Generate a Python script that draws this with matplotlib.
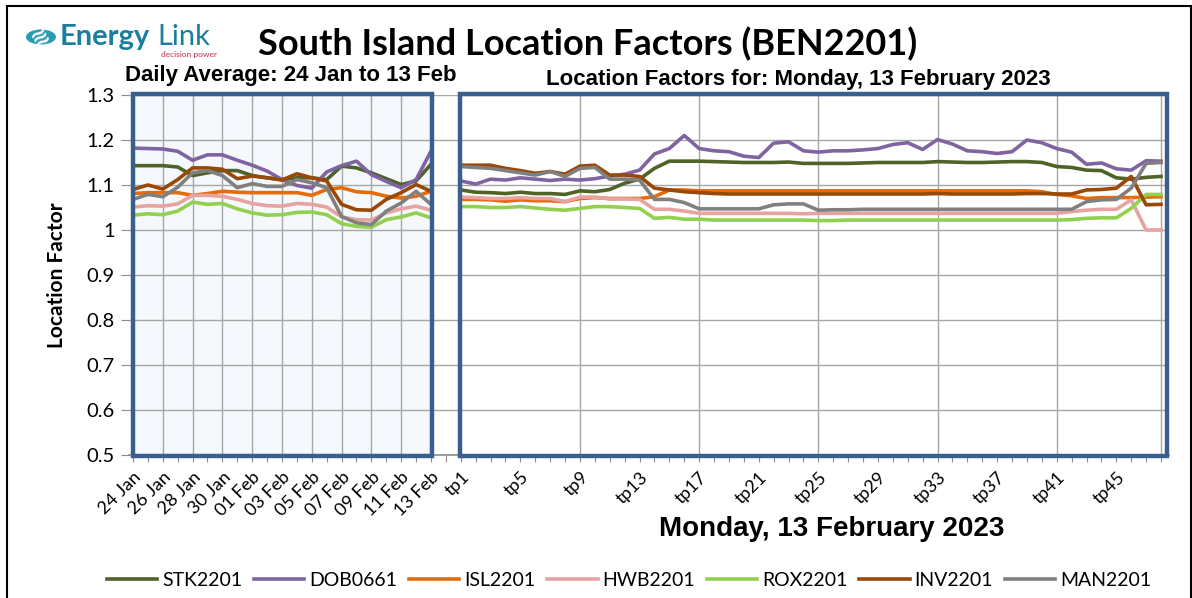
import matplotlib
matplotlib.use("Agg")
import matplotlib.pyplot as plt
from matplotlib.patches import Rectangle, Circle
import numpy as np

# ---------------- data ----------------
days = ["24 Jan", "25 Jan", "26 Jan", "27 Jan", "28 Jan", "29 Jan", "30 Jan", "31 Jan",
        "01 Feb", "02 Feb", "03 Feb", "04 Feb", "05 Feb", "06 Feb", "07 Feb", "08 Feb",
        "09 Feb", "10 Feb", "11 Feb", "12 Feb", "13 Feb"]
tps = [f"tp{k}" for k in range(1, 49)]

series_names = ["STK2201", "DOB0661", "ISL2201", "HWB2201", "ROX2201", "INV2201", "MAN2201"]
colors = ["#4F6228", "#8064A2", "#E46C0A", "#E6A3A1", "#92D050", "#984807", "#808080"]

# daily averages (21 days)
stk_daily = [1.143, 1.143, 1.143, 1.140, 1.121, 1.127, 1.132, 1.132, 1.121, 1.116, 1.112,
             1.116, 1.116, 1.112, 1.142, 1.138, 1.127, 1.114, 1.101, 1.109, 1.146]
dob_daily = [1.182, 1.181, 1.180, 1.175, 1.155, 1.167, 1.167, 1.155, 1.144, 1.131, 1.112,
             1.099, 1.093, 1.129, 1.143, 1.153, 1.123, 1.108, 1.094, 1.112, 1.175]
isl_daily = [1.081, 1.083, 1.083, 1.083, 1.077, 1.081, 1.086, 1.084, 1.083, 1.083, 1.083,
             1.083, 1.077, 1.090, 1.094, 1.085, 1.083, 1.075, 1.071, 1.075, 1.086]
hwb_daily = [1.051, 1.054, 1.053, 1.058, 1.077, 1.077, 1.075, 1.068, 1.059, 1.054, 1.053,
             1.059, 1.057, 1.051, 1.029, 1.023, 1.022, 1.038, 1.047, 1.053, 1.044]
rox_daily = [1.033, 1.036, 1.034, 1.042, 1.062, 1.057, 1.059, 1.047, 1.038, 1.033, 1.034,
             1.039, 1.040, 1.034, 1.014, 1.008, 1.006, 1.023, 1.029, 1.038, 1.027]
inv_daily = [1.090, 1.100, 1.091, 1.112, 1.138, 1.138, 1.135, 1.114, 1.120, 1.116, 1.111,
             1.125, 1.116, 1.109, 1.057, 1.045, 1.044, 1.068, 1.083, 1.101, 1.086]
man_daily = [1.068, 1.079, 1.074, 1.095, 1.127, 1.132, 1.121, 1.094, 1.103, 1.097, 1.097,
             1.112, 1.105, 1.094, 1.030, 1.016, 1.012, 1.042, 1.060, 1.086, 1.057]

# trading periods for 13 Feb (48)
stk_tp = [1.089, 1.084, 1.083, 1.081, 1.084, 1.081, 1.081, 1.079, 1.087, 1.085, 1.090, 1.104,
          1.113, 1.137, 1.153, 1.153, 1.153, 1.152, 1.151, 1.150, 1.150, 1.150, 1.151, 1.148,
          1.148, 1.148, 1.148, 1.149, 1.150, 1.150, 1.150, 1.150, 1.152, 1.151, 1.150, 1.150,
          1.151, 1.152, 1.152, 1.150, 1.141, 1.139, 1.133, 1.132, 1.116, 1.113, 1.117, 1.119]
dob_tp = [1.109, 1.102, 1.113, 1.111, 1.116, 1.113, 1.110, 1.113, 1.111, 1.114, 1.120, 1.124,
          1.133, 1.169, 1.181, 1.210, 1.181, 1.176, 1.174, 1.164, 1.161, 1.193, 1.196, 1.176,
          1.173, 1.176, 1.176, 1.178, 1.181, 1.190, 1.194, 1.179, 1.201, 1.191, 1.176, 1.174,
          1.170, 1.174, 1.200, 1.194, 1.181, 1.173, 1.146, 1.149, 1.136, 1.133, 1.154, 1.153]
isl_tp = [1.068, 1.068, 1.067, 1.064, 1.067, 1.065, 1.065, 1.063, 1.070, 1.072, 1.070, 1.070,
          1.070, 1.074, 1.089, 1.089, 1.087, 1.087, 1.087, 1.087, 1.087, 1.087, 1.087, 1.087,
          1.087, 1.087, 1.087, 1.087, 1.087, 1.087, 1.087, 1.087, 1.087, 1.087, 1.087, 1.087,
          1.087, 1.087, 1.087, 1.085, 1.079, 1.076, 1.070, 1.072, 1.072, 1.072, 1.073, 1.074]
hwb_tp = [1.073, 1.072, 1.070, 1.070, 1.072, 1.070, 1.070, 1.063, 1.073, 1.073, 1.069, 1.069,
          1.068, 1.046, 1.046, 1.042, 1.037, 1.037, 1.037, 1.037, 1.037, 1.037, 1.037, 1.036,
          1.037, 1.037, 1.037, 1.037, 1.037, 1.037, 1.037, 1.037, 1.037, 1.037, 1.037, 1.037,
          1.037, 1.037, 1.037, 1.037, 1.037, 1.041, 1.044, 1.046, 1.046, 1.067, 1.000, 1.000]
rox_tp = [1.052, 1.052, 1.050, 1.050, 1.052, 1.049, 1.046, 1.044, 1.048, 1.052, 1.052, 1.050,
          1.048, 1.026, 1.028, 1.024, 1.024, 1.022, 1.022, 1.022, 1.022, 1.022, 1.022, 1.022,
          1.021, 1.021, 1.022, 1.022, 1.022, 1.022, 1.022, 1.022, 1.022, 1.022, 1.022, 1.022,
          1.022, 1.022, 1.022, 1.022, 1.022, 1.023, 1.026, 1.027, 1.027, 1.048, 1.079, 1.079]
inv_tp = [1.144, 1.144, 1.144, 1.137, 1.132, 1.126, 1.130, 1.124, 1.142, 1.144, 1.122, 1.122,
          1.119, 1.093, 1.089, 1.085, 1.083, 1.081, 1.080, 1.080, 1.080, 1.080, 1.080, 1.080,
          1.080, 1.080, 1.080, 1.080, 1.080, 1.080, 1.080, 1.080, 1.081, 1.080, 1.080, 1.080,
          1.080, 1.080, 1.081, 1.081, 1.080, 1.080, 1.089, 1.090, 1.093, 1.119, 1.056, 1.057]
man_tp = [1.141, 1.139, 1.137, 1.132, 1.127, 1.122, 1.130, 1.119, 1.137, 1.139, 1.113, 1.113,
          1.111, 1.068, 1.068, 1.061, 1.047, 1.047, 1.047, 1.047, 1.047, 1.056, 1.058, 1.058,
          1.044, 1.045, 1.045, 1.046, 1.046, 1.046, 1.046, 1.046, 1.046, 1.046, 1.046, 1.046,
          1.046, 1.046, 1.046, 1.046, 1.046, 1.046, 1.063, 1.067, 1.068, 1.093, 1.148, 1.150]

daily = [stk_daily, dob_daily, isl_daily, hwb_daily, rox_daily, inv_daily, man_daily]
tpdata = [stk_tp, dob_tp, isl_tp, hwb_tp, rox_tp, inv_tp, man_tp]

y_ticks = [0.5, 0.6, 0.7, 0.8, 0.9, 1.0, 1.1, 1.2, 1.3]
y_labels = ["0.5", "0.6", "0.7", "0.8", "0.9", "1", "1.1", "1.2", "1.3"]

# ---------------- figure ----------------
W, H = 1192, 598
fig = plt.figure(figsize=(W / 100, H / 100), dpi=100)
fig.patch.set_facecolor("white")

def px_x(x):
    return x / W

def px_y(y):
    return 1 - y / H

ax_l, ax_r = 128.5, 1168.5
ax_t, ax_b = 95, 455
ax = fig.add_axes([px_x(ax_l), px_y(ax_b), px_x(ax_r - ax_l), (ax_b - ax_t) / H])
nd = len(days)
x_days = np.arange(nd)
x_tp = np.arange(len(tps)) + nd + 1
ncat = nd + 1 + len(tps)
x_per_px = (ncat - 1) / (1161 - 133)
ax.set_xlim(-(133 - ax_l) * x_per_px, (ncat - 1) + (ax_r - 1161) * x_per_px)
ax.set_ylim(0.5, 1.3)
ax.set_facecolor("white")

border_col = "#3A5F8C"
# left panel background
ax.add_patch(Rectangle((0, 0.5), nd - 1, 0.8, facecolor="#F5F8FC", edgecolor="none", zorder=0))

# gridlines
grid_col = "#A6A6A6"
for yv in y_ticks:
    ax.axhline(yv, color=grid_col, lw=1.0, zorder=1)
for i in range(2, nd - 1, 2):
    ax.axvline(i, color=grid_col, lw=1.0, zorder=1)
for k in [9, 17, 25, 33, 41, 48]:
    ax.axvline(nd + k, color=grid_col, lw=1.0, zorder=1)

for name, col, d, t in zip(series_names, colors, daily, tpdata):
    ax.plot(x_days, d, color=col, lw=2.6, zorder=3, label=name, solid_joinstyle="round")
    ax.plot(x_tp, t, color=col, lw=2.6, zorder=3, solid_joinstyle="round")

# panel borders
ax.add_patch(Rectangle((0, 0.497), nd - 1 + 0.05, 0.806, facecolor="none",
                       edgecolor=border_col, lw=3.2, zorder=5, clip_on=False))
ax.add_patch(Rectangle((nd + 0.98, 0.497), (ncat - 1 + 0.4) - (nd + 0.98), 0.806,
                       facecolor="none", edgecolor=border_col, lw=3.2, zorder=5, clip_on=False))

for s in ["top", "right", "left"]:
    ax.spines[s].set_visible(False)
ax.spines["bottom"].set_color("#8C8C8C")
ax.spines["bottom"].set_linewidth(1.2)

# ticks
xt = list(range(ncat))
xl = [""] * ncat
for i in range(0, nd, 2):
    xl[i] = days[i]
for k in range(1, 49, 4):
    xl[nd + k] = tps[k - 1]
ax.set_xticks(xt)
ax.set_xticklabels(xl, rotation=45, ha="right", va="top", rotation_mode="anchor",
                   fontsize=13, family=["Lato", "DejaVu Sans"])
ax.tick_params(axis="x", length=5, color="#8C8C8C", pad=5)
ax.set_yticks(y_ticks)
ax.set_yticklabels(y_labels, fontsize=14.5, family="Lato")
ax.tick_params(axis="y", length=6, color="#8C8C8C", pad=4)

ax.set_ylabel("Location Factor", fontsize=15, fontweight="bold", family="Lato",
              labelpad=14)

# texts
fig.text(px_x(588), px_y(44), "South Island Location Factors (BEN2201)", ha="center",
         va="center", fontsize=26, fontweight="bold", family="Lato")
fig.text(px_x(125), px_y(76), "Daily Average: 24 Jan to 13 Feb", ha="left", va="center",
         fontsize=16, fontweight="bold", family="Liberation Sans")
fig.text(px_x(798), px_y(80), "Location Factors for: Monday, 13 February 2023", ha="center",
         va="center", fontsize=16, fontweight="bold", family="Liberation Sans")
fig.text(px_x(832), px_y(529), "Monday, 13 February 2023", ha="center", va="center",
         fontsize=20, fontweight="bold", family="Liberation Sans")

# logo
logo = "#1B7E9E"
fig.patches.append(Circle((px_x(41), px_y(37)), radius=15 / W, transform=fig.transFigure,
                          facecolor="#2A9BB5", edgecolor="none"))
fig.text(px_x(41), px_y(37), "≋", ha="center", va="center", color="white", fontsize=16,
         family="DejaVu Sans", fontweight="bold", rotation=30)
fig.text(px_x(60), px_y(37), "Energy", ha="left", va="center", color=logo, fontsize=21,
         family="Lato", fontweight="bold")
fig.text(px_x(157), px_y(37), "Link", ha="left", va="center", color=logo, fontsize=21,
         family="Lato", fontweight="normal")
fig.text(px_x(217), px_y(55), "decision power", ha="right", va="center", color="#C0304A",
         fontsize=6, family="Lato")

# outer frame
fig.patches.append(Rectangle((px_x(7), -0.05), px_x(1184), 1.05 - 6 / H, transform=fig.transFigure,
                             facecolor="none", edgecolor="black", lw=1.5))

# legend
handles, labels = ax.get_legend_handles_labels()
fig.legend(handles, labels, loc="center", bbox_to_anchor=(px_x(629), px_y(580)), ncol=7,
           frameon=False, handlelength=2.6, handletextpad=0.25, columnspacing=0.6,
           prop={"family": "Lato", "size": 14})

fig.savefig("out.png", dpi=100)
